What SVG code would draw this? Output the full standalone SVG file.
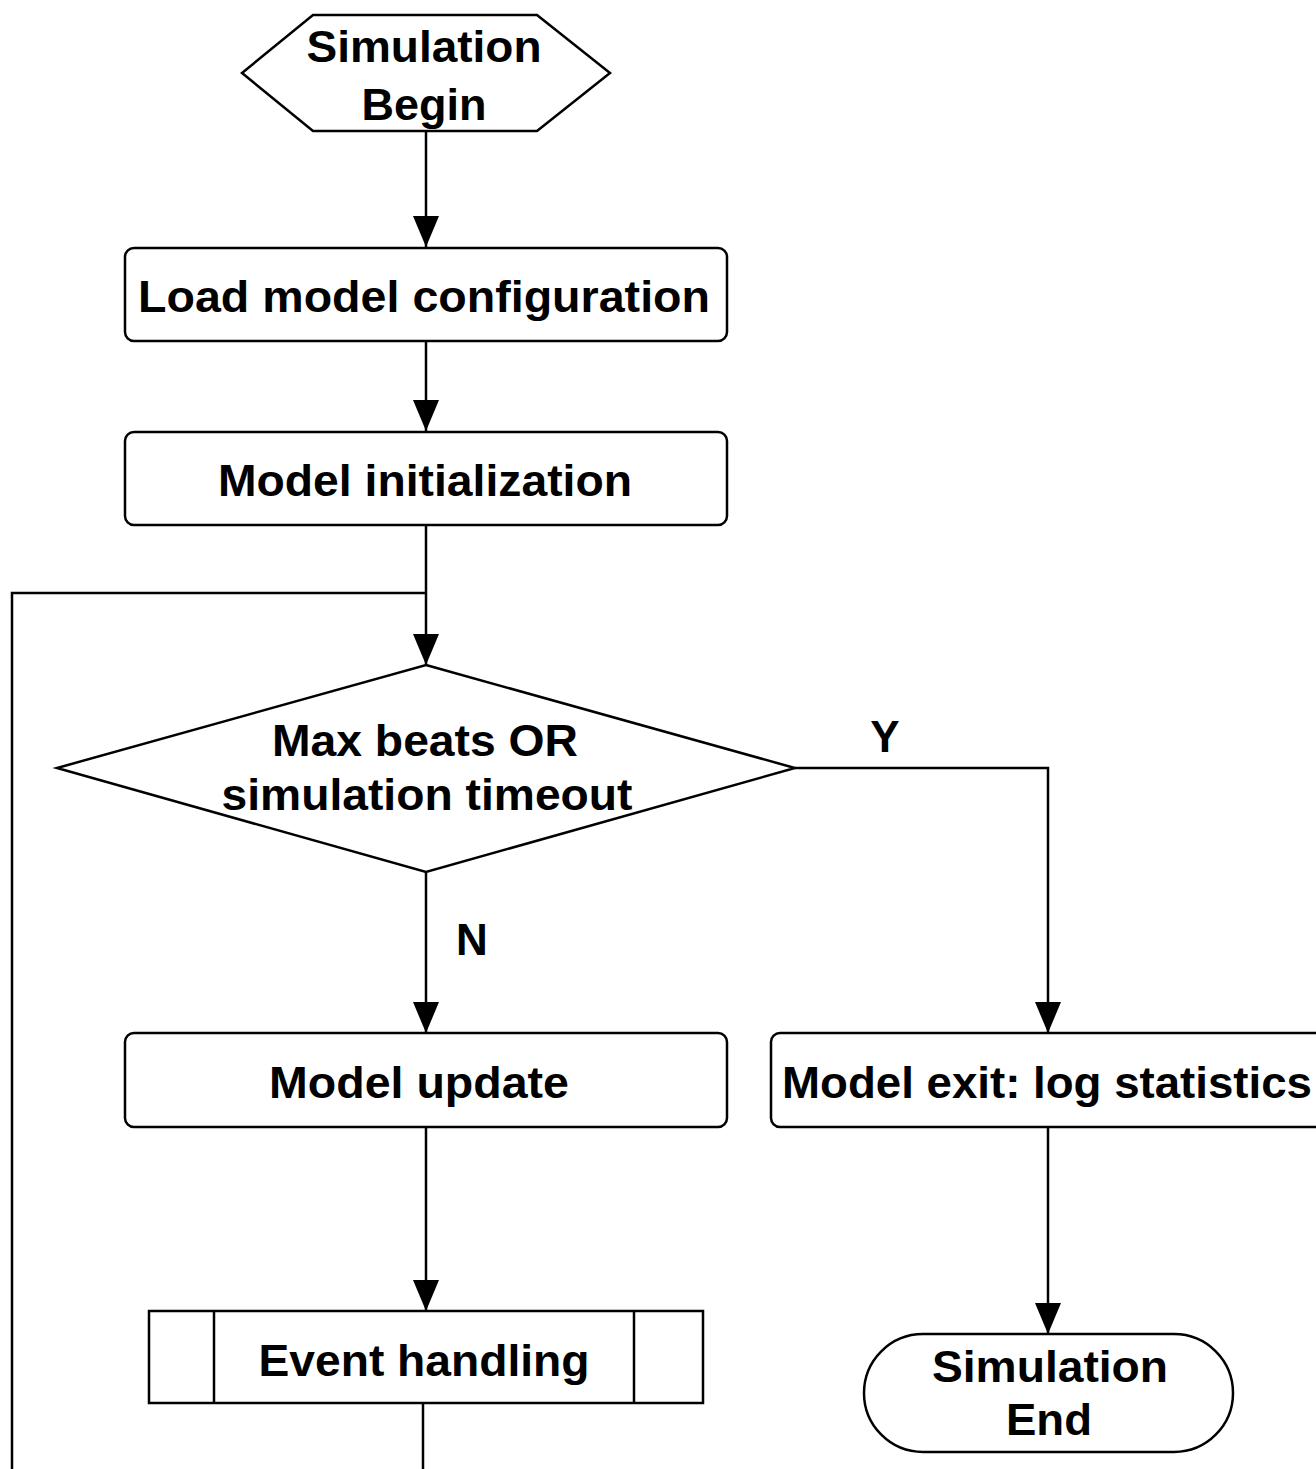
<svg xmlns="http://www.w3.org/2000/svg" width="1316" height="1469" viewBox="0 0 1316 1469">
<style>
.shape{fill:#fff;stroke:#000;stroke-width:2.5}
.conn{fill:none;stroke:#000;stroke-width:2.5}
.arrow{marker-end:url(#arr)}
.t{font-family:"Liberation Sans",Arial,sans-serif;font-weight:bold;font-size:44px;fill:#000;text-anchor:middle}
</style>
<defs>
<marker id="arr" markerWidth="31" markerHeight="26" refX="31" refY="13" orient="auto" markerUnits="userSpaceOnUse" viewBox="0 0 31 26">
<path d="M0,0 L31,13 L0,26 Z" fill="#000"/>
</marker>
</defs>
<rect width="1316" height="1469" fill="#fff"/>
<g id="connectors">
<line class="conn arrow" x1="426" y1="131" x2="426" y2="247"/>
<line class="conn arrow" x1="426" y1="341" x2="426" y2="431"/>
<line class="conn arrow" x1="426" y1="525" x2="426" y2="665"/>
<polyline class="conn" points="12,1469 12,593 426,593"/>
<line class="conn arrow" x1="426" y1="872" x2="426" y2="1033"/>
<polyline class="conn arrow" points="795,768 1048,768 1048,1033"/>
<line class="conn arrow" x1="426" y1="1127" x2="426" y2="1311"/>
<line class="conn arrow" x1="1048" y1="1127" x2="1048" y2="1334"/>
<line class="conn" x1="423" y1="1403" x2="423" y2="1469"/>
<text class="t" x="885" y="752" font-size="40">Y</text>
<text class="t" x="472" y="955" font-size="40">N</text>
</g>
<g id="begin">
<polygon class="shape" points="313,15 537,15 610,73 537,131 313,131 242,73"/>
<text class="t" x="424" y="62" textLength="235" lengthAdjust="spacingAndGlyphs">Simulation</text>
<text class="t" x="424" y="120" textLength="125" lengthAdjust="spacingAndGlyphs">Begin</text>
</g>
<g id="load">
<rect class="shape" x="125" y="248" width="602" height="93" rx="9"/>
<text class="t" x="424" y="312" textLength="572" lengthAdjust="spacingAndGlyphs">Load model configuration</text>
</g>
<g id="init">
<rect class="shape" x="125" y="432" width="602" height="93" rx="9"/>
<text class="t" x="425" y="496" textLength="414" lengthAdjust="spacingAndGlyphs">Model initialization</text>
</g>
<g id="decision">
<polygon class="shape" points="426,665 795,768 426,872 57,768"/>
<text class="t" x="425" y="756" textLength="306" lengthAdjust="spacingAndGlyphs">Max beats OR</text>
<text class="t" x="427" y="810" textLength="411" lengthAdjust="spacingAndGlyphs">simulation timeout</text>
</g>
<g id="update">
<rect class="shape" x="125" y="1033" width="602" height="94" rx="9"/>
<text class="t" x="419" y="1098" textLength="300" lengthAdjust="spacingAndGlyphs">Model update</text>
</g>
<g id="exit">
<rect class="shape" x="771" y="1033" width="560" height="94" rx="9"/>
<text class="t" x="1047" y="1098" textLength="530" lengthAdjust="spacingAndGlyphs">Model exit: log statistics</text>
</g>
<g id="event">
<rect class="shape" x="149" y="1311" width="554" height="92"/>
<line class="conn" x1="214" y1="1311" x2="214" y2="1403"/>
<line class="conn" x1="634" y1="1311" x2="634" y2="1403"/>
<text class="t" x="424" y="1376" textLength="331" lengthAdjust="spacingAndGlyphs">Event handling</text>
</g>
<g id="end">
<rect class="shape" x="864" y="1334" width="369" height="118" rx="59"/>
<text class="t" x="1050" y="1382" textLength="236" lengthAdjust="spacingAndGlyphs">Simulation</text>
<text class="t" x="1049" y="1435" textLength="86" lengthAdjust="spacingAndGlyphs">End</text>
</g>
</svg>
